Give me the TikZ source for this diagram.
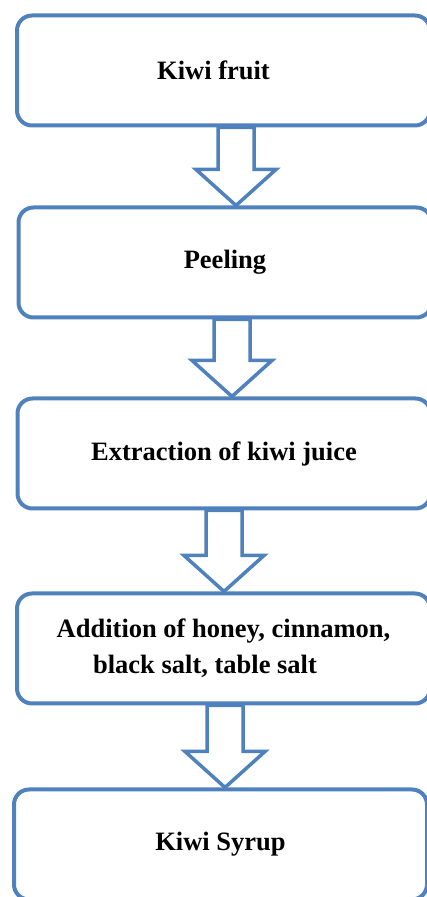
\documentclass[tikz,border=0pt]{standalone}
\usepackage{fontspec}
\setmainfont{Liberation Serif}
\usetikzlibrary{calc}
\usetikzlibrary{math}
\definecolor{bordure}{HTML}{4F81BD}

\begin{document}
\begin{tikzpicture}[x=1pt,y=1pt,
    etape/.style={draw=bordure, line width=4pt, rounded corners=15pt, fill=white,
        minimum width=413pt, minimum height=110pt, align=center,
        font=\fontsize{26.5}{36}\selectfont\bfseries},
    fleche/.style={draw=bordure, line width=3.5pt, fill=white}]
    \useasboundingbox (0,0) rectangle (427,897);
    \tikzmath{\tige = 18; \pointe = 40; \longueur = 36;}
    \node[etape] (fruit) at (223.5,826.5) {Kiwi fruit\hspace*{20pt}};
    \node[etape] (peel) at (225,634.5) {Peeling};
    \node[etape] (juice) at (224,443.5) {Extraction of kiwi juice};
    \node[etape] (add) at (223.5,248.5) {Addition of honey, cinnamon,\\black salt, table salt\hspace*{37pt}};
    \node[etape] (syrup) at (220.5,52.5) {Kiwi Syrup};
    \foreach \u/\v/\dx in {fruit/peel/12.5, peel/juice/7, juice/add/0, add/syrup/1.5} {
        \coordinate (H) at ($(\u.south)+(\dx,0)$);
        \coordinate (P) at (H |- \v.north);
        \draw[fleche] ($(H)+(-\tige,0)$) -- ($(P)+(-\tige,\longueur)$) -- ($(P)+(-\pointe,\longueur)$)
            -- (P) -- ($(P)+(\pointe,\longueur)$) -- ($(P)+(\tige,\longueur)$) -- ($(H)+(\tige,0)$) -- cycle;
    }
\end{tikzpicture}
\end{document}
